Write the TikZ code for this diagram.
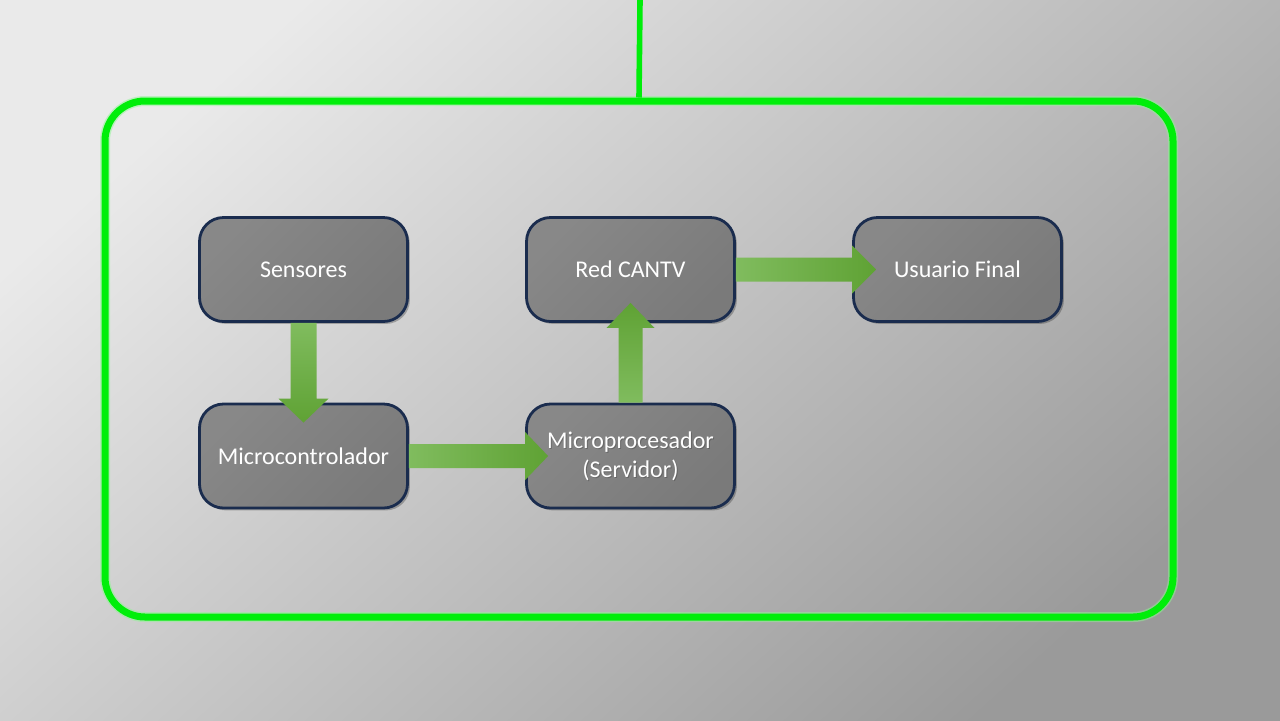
\documentclass[tikz,border=0pt]{standalone}
\usepackage{fontspec}
\setmainfont{Carlito}
\usetikzlibrary{calc,shadows}
\definecolor{bgA}{HTML}{EAEAEA}
\definecolor{bgB}{HTML}{9A9A9A}
\definecolor{frameG}{HTML}{00EE0A}
\definecolor{boxA}{HTML}{888888}
\definecolor{boxB}{HTML}{7A7A7A}
\definecolor{boxLine}{HTML}{1A2C4E}
\definecolor{arrL}{HTML}{80BC5E}
\definecolor{arrD}{HTML}{5FA234}
\tikzset{
  procbox/.style={draw=boxLine, line width=1.4pt, rounded corners=12pt,
    minimum width=104pt, minimum height=52pt, inner sep=0pt,
    left color=boxA, right color=boxB, shading angle=45,
    drop shadow={shadow xshift=1.2pt, shadow yshift=-1.2pt, opacity=0.25, fill=black},
    text=white, align=center, font=\fontsize{12}{14.5}\selectfont},
  framebox/.style={draw=frameG, line width=3.5pt, rounded corners=20pt,
    minimum width=534pt, minimum height=258pt, inner sep=0pt},
  glow/.style={draw=frameG!45, line width=5pt, rounded corners=20pt, opacity=0.5,
    minimum width=534pt, minimum height=258pt, inner sep=0pt},
  feedline/.style={draw=frameG, line width=2.8pt},
  greenarrow/.style={draw=none},
  txtshadow/.style={text=black, opacity=0.2, align=center, font=\fontsize{12}{14.5}\selectfont}
}
\begin{document}
\begin{tikzpicture}[x=0.5pt, y=-0.5pt]
\useasboundingbox (0,0) rectangle (1280,720);
\shade[left color=bgA, right color=bgB, shading angle=42] (0,0) rectangle (1280,720);

% frame
\node[glow] at (639,359) {};
\node[framebox] (frame) at (639,359) {};
\coordinate (feed) at (640,0);
\draw[feedline] (feed) -- (frame.north);

% text shadows
\foreach \p/\t in {{303.5,269.5}/Sensores, {630.5,269.5}/Red CANTV, {957.5,269.5}/Usuario Final, {303.5,456}/Microcontrolador}
  \node[txtshadow] at ($(\p)+(1,1.5)$) {\t};

% boxes
\node[procbox] (sens) at (303.5,269.5) {Sensores};
\node[procbox] (red) at (630.5,269.5) {Red CANTV};
\node[procbox] (usr) at (957.5,269.5) {Usuario Final};
\node[procbox] (mctl) at (303.5,456) {Microcontrolador};
\node[procbox] (mproc) at (630.5,456) {};
\node[txtshadow] at ($(mproc.center)+(1,1.5)$) {Microprocesador\\(Servidor)};
\node[text=white, align=center, font=\fontsize{12}{14.5}\selectfont] (mproctxt) at (mproc.center) {Microprocesador\\(Servidor)};

% arrows
\shade[top color=arrL, bottom color=arrD, greenarrow]
  ($(sens.south)+(-13,0)$) -- ($(mctl.north)+(-13,-4)$) -- ($(mctl.north)+(-25,-4)$)
  -- ($(mctl.north)+(0,20)$) -- ($(mctl.north)+(25,-4)$) -- ($(mctl.north)+(13,-4)$)
  -- ($(sens.south)+(13,0)$) -- cycle;
\shade[left color=arrL, right color=arrD, greenarrow]
  ($(mctl.east)+(0,-12)$) -- ($(mproc.west)+(0,-12)$) -- ($(mproc.west)+(0,-24)$)
  -- ($(mproc.west)+(23,0)$) -- ($(mproc.west)+(0,24)$) -- ($(mproc.west)+(0,12)$)
  -- ($(mctl.east)+(0,12)$) -- cycle;
\shade[bottom color=arrL, top color=arrD, greenarrow]
  ($(mproc.north)+(-12,0)$) -- ($(red.south)+(-12,5)$) -- ($(red.south)+(-24,5)$)
  -- ($(red.south)+(0,-20)$) -- ($(red.south)+(24,5)$) -- ($(red.south)+(12,5)$)
  -- ($(mproc.north)+(12,0)$) -- cycle;
\shade[left color=arrL, right color=arrD, greenarrow]
  ($(red.east)+(0,-12)$) -- ($(usr.west)+(0,-12)$) -- ($(usr.west)+(0,-24)$)
  -- ($(usr.west)+(24,0)$) -- ($(usr.west)+(0,24)$) -- ($(usr.west)+(0,12)$)
  -- ($(red.east)+(0,12)$) -- cycle;
\end{tikzpicture}
\end{document}
